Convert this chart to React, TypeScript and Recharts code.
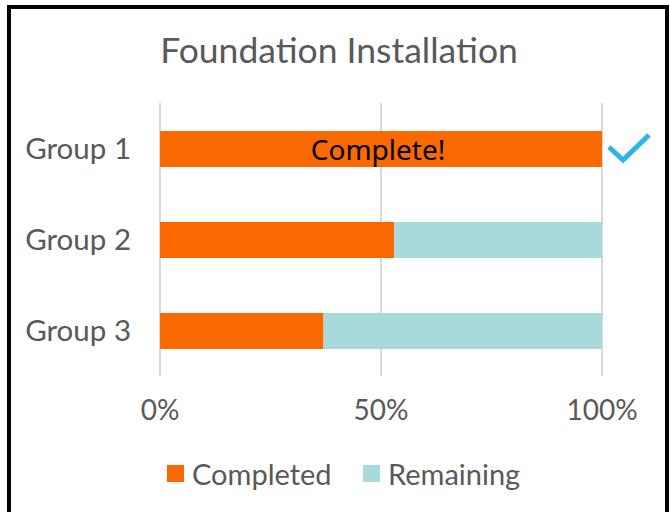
import React from "react";
import { BarChart, Bar, XAxis, YAxis, CartesianGrid, Legend, LabelList } from "recharts";

const groups = ["Group 1", "Group 2", "Group 3"];
const completed = [1, 0.53, 0.37];
const remaining = [0, 0.47, 0.63];
const xTicks = [0, 0.5, 1];
const seriesNames = ["Completed", "Remaining"];
const seriesColors = ["#FA6900", "#A8DADB"];
const chartTitle = "Foundation Installation";
const doneLabel = "Complete!";

const data = groups.map((g, i) => ({ name: g, Completed: completed[i], Remaining: remaining[i] }));

const TEXT = "#595959";
const FONT = "Lato, 'Open Sans', sans-serif";

const DoneLabel = (props: any) => {
  const { x, y, width, height, index } = props;
  if (index !== 0) return null;
  const cx = x + width / 2;
  const cy = y + height / 2;
  const ex = x + width;
  return (
    <g>
      <text x={cx - 3} y={cy} textAnchor="middle" dominantBaseline="central" fill="#000" fontSize={28} fontFamily="'Noto Sans', sans-serif">
        {doneLabel}
      </text>
      <polyline
        points={`${ex + 7},${cy - 2} ${ex + 21},${cy + 11} ${ex + 47},${cy - 14}`}
        fill="none"
        stroke="#29B5E8"
        strokeWidth={5}
      />
    </g>
  );
};

const LegendContent = () => (
  <div style={{ position: "relative", height: 34, fontFamily: FONT, fontSize: 29, color: TEXT }}>
    {seriesNames.map((n, i) => (
      <div key={n} style={{ position: "absolute", left: i === 0 ? 167 : 363, top: 0, height: 34, display: "flex", alignItems: "center", whiteSpace: "nowrap" }}>
        <div style={{ width: 17, height: 17, background: seriesColors[i], marginRight: 8 }} />
        <span>{n}</span>
      </div>
    ))}
  </div>
);

export default function App() {
  return (
    <div style={{ position: "absolute", left: 0, top: 0, width: 670, height: 512, overflow: "hidden", background: "#fff" }}>
      <div style={{ position: "absolute", left: 7, top: 5, width: 662, height: 540, border: "4px solid #000", boxSizing: "border-box" }} />
      <div style={{ position: "absolute", left: 0, top: 27, width: 678, textAlign: "center", fontFamily: FONT, fontSize: 35.5, color: TEXT, lineHeight: "46px" }}>
        {chartTitle}
      </div>
      <div style={{ position: "absolute", left: 0, top: 0 }}>
        <BarChart
          width={670}
          height={512}
          data={data}
          layout="vertical"
          margin={{ top: 103, right: 68, left: 20, bottom: 50 }}
          barSize={36}
          barCategoryGap={0}
        >
          <CartesianGrid horizontal={false} vertical={true} stroke="#D9D9D9" strokeWidth={2} />
          <XAxis
            type="number"
            domain={[0, 1]}
            ticks={xTicks}
            tickFormatter={(v: number) => `${Math.round(v * 100)}%`}
            axisLine={false}
            tickLine={false}
            tickMargin={18}
            height={52}
            tick={{ fill: TEXT, fontSize: 28, fontFamily: FONT }}
            interval={0}
          />
          <YAxis
            type="category"
            dataKey="name"
            axisLine={false}
            tickLine={false}
            width={140}
            tickMargin={23}
            tick={{ fill: TEXT, fontSize: 29.5, fontFamily: FONT }}
          />
          <Legend
            verticalAlign="bottom"
            content={<LegendContent />}
            wrapperStyle={{ left: 0, width: 670, top: 456 }}
          />
          <Bar dataKey="Completed" stackId="a" fill={seriesColors[0]} isAnimationActive={false}>
            <LabelList dataKey="Completed" content={<DoneLabel />} />
          </Bar>
          <Bar dataKey="Remaining" stackId="a" fill={seriesColors[1]} isAnimationActive={false} />
        </BarChart>
      </div>
    </div>
  );
}
